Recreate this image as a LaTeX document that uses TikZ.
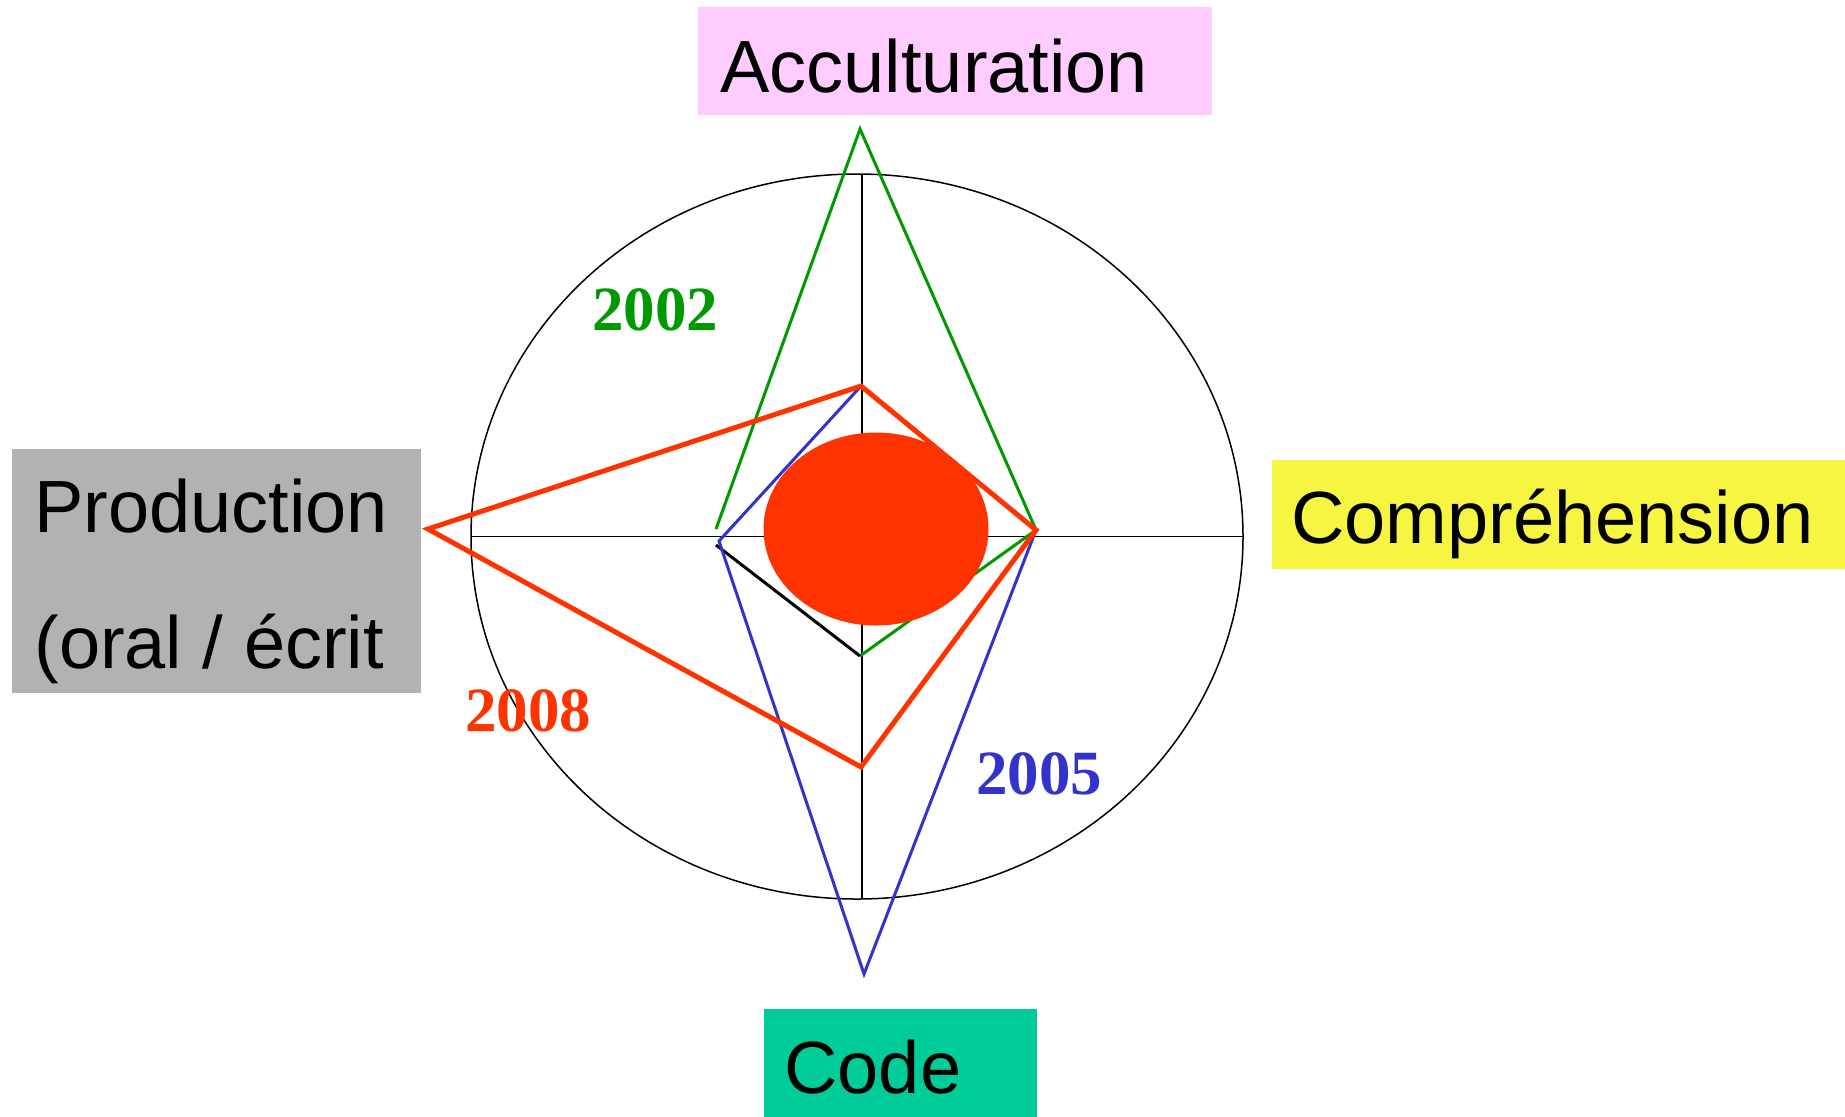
\documentclass[tikz,border=0pt]{standalone}
\usepackage{fontspec}
\setmainfont{Liberation Sans}
\newfontfamily\yearfont{Liberation Serif}
\definecolor{accpink}{RGB}{255,204,255}
\definecolor{prodgray}{RGB}{178,178,178}
\definecolor{compyellow}{RGB}{245,245,66}
\definecolor{codeteal}{RGB}{0,204,153}
\definecolor{ygreen}{RGB}{0,153,0}
\definecolor{yblue}{RGB}{51,51,204}
\definecolor{yred}{RGB}{255,51,0}
\begin{document}
\begin{tikzpicture}[x=0.5pt,y=-0.5pt,
  labelbox/.style={rectangle,inner sep=0pt,anchor=north west},
  axistext/.style={anchor=base west,inner sep=0pt,font=\fontsize{37}{44}\selectfont},
  yeartext/.style={anchor=base,inner sep=0pt,font=\yearfont\bfseries\fontsize{31.5}{36}\selectfont},
  axisline/.style={line width=0.75pt,black},
  poly/.style={line join=miter,line cap=butt}]
\useasboundingbox (0,0) rectangle (1845,1116);

% axis label boxes
\node[labelbox,fill=accpink,minimum width=257pt,minimum height=54pt] (accbox) at (698,7) {};
\node[axistext] (acc) at (720,92) {Acculturation};
\node[labelbox,fill=prodgray,minimum width=204.5pt,minimum height=122pt] (prodbox) at (12,449) {};
\node[axistext] (prod1) at (34,532) {Production};
\node[axistext] (prod2) at (34,668) {(oral / écrit};
\node[labelbox,fill=compyellow,minimum width=287pt,minimum height=54.5pt] (compbox) at (1272,460) {};
\node[axistext] (comp) at (1291,543) {Compréhension};
\node[labelbox,fill=codeteal,minimum width=136.5pt,minimum height=54pt] (codebox) at (764,1009) {};
\node[axistext] (code) at (784,1093) {Code};

% frame: ellipse and axes
\coordinate (c) at (857,536.5);
\coordinate (ax-top) at (862,174);
\coordinate (ax-bot) at (862,899);
\coordinate (ax-left) at (471,536.5);
\coordinate (ax-right) at (1243,536.5);
\draw[axisline] (c) ellipse [x radius=193pt, y radius=181.25pt];
\draw[axisline] (ax-top) -- (ax-bot);
\draw[axisline] (ax-left) -- (ax-right);

% profile vertices
\coordinate (g-left) at (716,529);
\coordinate (g-top) at (860,129);
\coordinate (r-right) at (1036,530);
\coordinate (g-bot) at (860,656);
\coordinate (k-left) at (716,545);
\coordinate (b-left) at (719,541);
\coordinate (r-top) at (861,386);
\coordinate (b-bot) at (864,974);
\coordinate (r-bot) at (861,767);
\coordinate (r-left) at (428,529);

% 2002
\draw[poly,ygreen,line width=1.5pt] (g-left) -- (g-top) -- (r-right) -- (g-bot);
\draw[poly,black,line width=1.5pt] (g-bot) -- (k-left);
% 2005
\draw[poly,yblue,line width=1.5pt] (r-top) -- (r-right) -- (b-bot) -- (b-left) -- cycle;
% centre blob
\fill[yred] (876,529) ellipse [x radius=56.25pt, y radius=48.25pt];
% 2008
\draw[poly,yred,line width=2.5pt] (r-top) -- (r-right) -- (r-bot) -- (r-left) -- cycle;

% year labels
\node[yeartext,text=ygreen] (y2002) at (655,330) {2002};
\node[yeartext,text=yblue] (y2005) at (1039,794) {2005};
\node[yeartext,text=yred] (y2008) at (528,731) {2008};
\end{tikzpicture}
\end{document}
